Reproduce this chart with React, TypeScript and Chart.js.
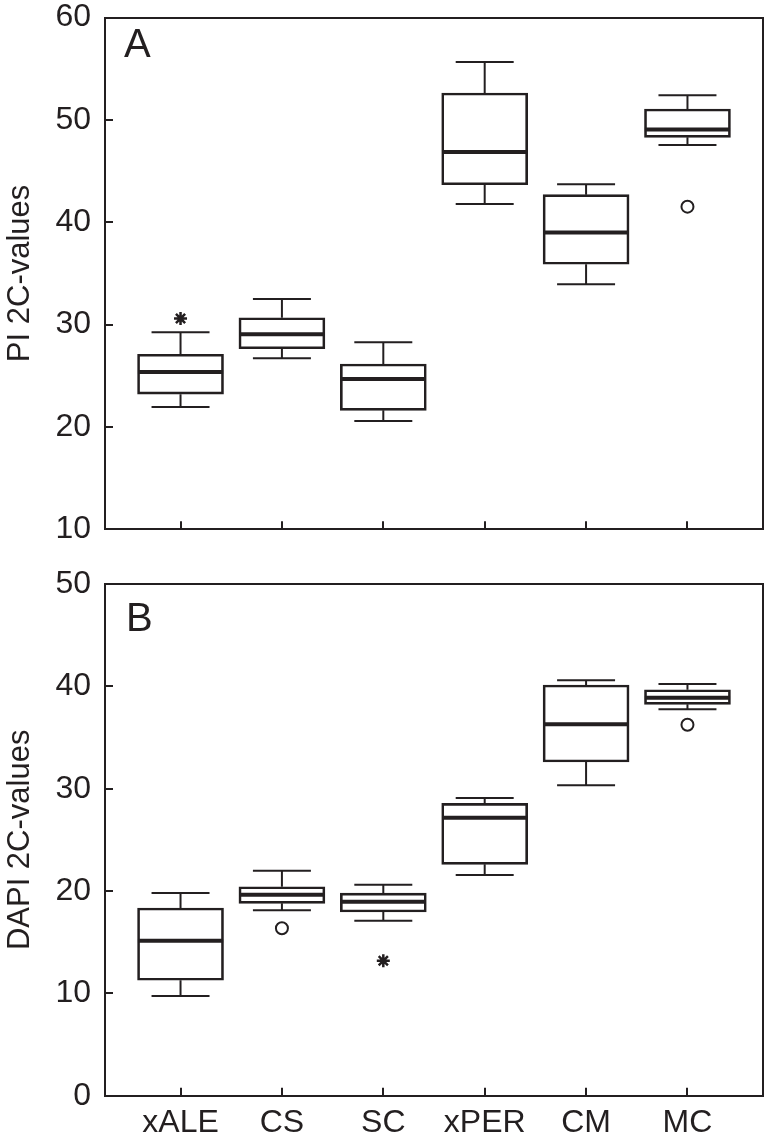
import React, { useEffect, useRef } from 'react';
import { Chart, registerables } from 'chart.js';

Chart.register(...registerables);

// ---------- data ----------
const CATEGORIES = ['xALE', 'CS', 'SC', 'xPER', 'CM', 'MC'];

const PI_MIN = [21.95, 26.7, 20.58, 41.78, 33.93, 47.54];
const PI_Q1 = [23.2, 27.64, 21.62, 43.66, 35.89, 48.29];
const PI_MEDIAN = [25.37, 29.05, 24.68, 46.86, 39.0, 49.05];
const PI_Q3 = [27.1, 30.67, 26.15, 52.62, 42.69, 51.06];
const PI_MAX = [29.25, 32.5, 28.27, 55.65, 43.7, 52.4];
const PI_OUTLIERS = [{ cat: 5, value: 41.52 }];
const PI_EXTREMES = [{ cat: 0, value: 30.6 }];
const PI_TICKS = [10, 20, 30, 40, 50, 60];

const DAPI_MIN = [9.74, 18.12, 17.1, 21.57, 30.33, 37.76];
const DAPI_Q1 = [11.28, 18.8, 17.95, 22.61, 32.61, 38.24];
const DAPI_MEDIAN = [15.15, 19.64, 18.96, 27.17, 36.29, 38.89];
const DAPI_Q3 = [18.34, 20.42, 19.8, 28.57, 40.13, 39.67];
const DAPI_MAX = [19.81, 21.99, 20.62, 29.09, 40.59, 40.23];
const DAPI_OUTLIERS = [{ cat: 1, value: 16.36 }, { cat: 5, value: 36.25 }];
const DAPI_EXTREMES = [{ cat: 2, value: 13.19 }];
const DAPI_TICKS = [0, 10, 20, 30, 40, 50];

// ---------- style ----------
const INK = '#231f20';
const FONT = '"Liberation Sans", Arial, Helvetica, sans-serif';
const X_MIN = -0.745;
const X_MAX = 5.745;
const BOX_HALF = 0.42;
const CAP_HALF = 0.286;

type Pt = { x: number; y: number | null };

function whiskerPoints(mins: number[], q1: number[], q3: number[], maxs: number[]): Pt[] {
  const pts: Pt[] = [];
  mins.forEach((mn, i) => {
    pts.push({ x: i, y: q3[i] }, { x: i, y: maxs[i] }, { x: i, y: null });
    pts.push({ x: i, y: mn }, { x: i, y: q1[i] }, { x: i, y: null });
    pts.push({ x: i - CAP_HALF, y: maxs[i] }, { x: i + CAP_HALF, y: maxs[i] }, { x: i, y: null });
    pts.push({ x: i - CAP_HALF, y: mn }, { x: i + CAP_HALF, y: mn }, { x: i, y: null });
  });
  return pts;
}

function medianPoints(med: number[]): Pt[] {
  const pts: Pt[] = [];
  med.forEach((m, i) => {
    pts.push({ x: i - BOX_HALF, y: m }, { x: i + BOX_HALF, y: m }, { x: i, y: null });
  });
  return pts;
}

function zeroPad(scale: any) {
  scale.paddingTop = 0;
  scale.paddingBottom = 0;
  scale.paddingLeft = 0;
  scale.paddingRight = 0;
}

const panelLabel = {
  id: 'panelLabel',
  afterDraw(chart: any, _args: any, opts: any) {
    const { ctx, chartArea } = chart;
    ctx.save();
    ctx.font = `40px ${FONT}`;
    ctx.fillStyle = INK;
    ctx.textAlign = 'left';
    ctx.textBaseline = 'alphabetic';
    ctx.fillText(opts.text, chartArea.left + opts.dx, chartArea.top + opts.dy);
    ctx.restore();
  },
};

type PanelProps = {
  width: number;
  height: number;
  top: number;
  letter: string;
  letterDx: number;
  letterDy: number;
  yTitle: string;
  yTicks: number[];
  mins: number[];
  q1: number[];
  med: number[];
  q3: number[];
  maxs: number[];
  outliers: { cat: number; value: number }[];
  extremes: { cat: number; value: number }[];
  showXLabels: boolean;
  padTop: number;
  xAxisHeight: number;
};

function Panel(p: PanelProps) {
  const ref = useRef<HTMLCanvasElement | null>(null);
  useEffect(() => {
    if (!ref.current) return;
    const chart = new Chart(ref.current, {
      type: 'bar',
      data: {
        datasets: [
          {
            type: 'bar',
            data: p.q1.map((v, i) => ({ x: i, y: [v, p.q3[i]] })) as any,
            backgroundColor: 'rgba(255,255,255,0)',
            borderColor: INK,
            borderWidth: 2,
            borderSkipped: false,
            barThickness: 86,
            order: 3,
          } as any,
          {
            type: 'line',
            data: whiskerPoints(p.mins, p.q1, p.q3, p.maxs) as any,
            borderColor: INK,
            borderWidth: 2,
            pointRadius: 0,
            spanGaps: false,
            fill: false,
            order: 2,
          } as any,
          {
            type: 'line',
            data: medianPoints(p.med) as any,
            borderColor: INK,
            borderWidth: 4,
            pointRadius: 0,
            spanGaps: false,
            fill: false,
            order: 1,
          } as any,
          {
            type: 'line',
            data: p.outliers.map((o) => ({ x: o.cat, y: o.value })) as any,
            showLine: false,
            pointStyle: 'circle',
            pointRadius: 6,
            pointBorderWidth: 2,
            pointBorderColor: INK,
            pointBackgroundColor: '#ffffff',
            order: 0,
          } as any,
          {
            type: 'line',
            data: p.extremes.map((o) => ({ x: o.cat, y: o.value })) as any,
            showLine: false,
            pointStyle: 'star',
            pointRadius: 6.5,
            pointBorderWidth: 2.5,
            pointBorderColor: INK,
            pointBackgroundColor: INK,
            order: 0,
          } as any,
        ],
      },
      options: {
        animation: false,
        responsive: false,
        maintainAspectRatio: false,
        layout: { autoPadding: false, padding: { top: p.padTop, left: 0, right: 1, bottom: 0 } },
        plugins: {
          legend: { display: false },
          tooltip: { enabled: false },
          panelLabel: { text: p.letter, dx: p.letterDx, dy: p.letterDy },
        } as any,
        scales: {
          x: {
            type: 'linear',
            position: 'bottom',
            min: X_MIN,
            max: X_MAX,
            offset: false,
            afterBuildTicks: (scale: any) => {
              scale.ticks = CATEGORIES.map((_, i) => ({ value: i }));
            },
            afterFit: (scale: any) => {
              scale.height = p.xAxisHeight;
              zeroPad(scale);
            },
            ticks: {
              display: p.showXLabels,
              autoSkip: false,
              maxRotation: 0,
              padding: 19,
              color: INK,
              font: { family: FONT, size: 32, lineHeight: 1 },
              callback: (v: any) => CATEGORIES[Math.round(Number(v))] ?? '',
            },
            grid: {
              display: true,
              offset: false,
              drawOnChartArea: false,
              drawTicks: true,
              tickLength: -8,
              color: INK,
              lineWidth: 2,
            },
            border: { display: true, color: INK, width: 2 },
          },
          y: {
            type: 'linear',
            position: 'left',
            min: p.yTicks[0],
            max: p.yTicks[p.yTicks.length - 1],
            afterBuildTicks: (scale: any) => {
              scale.ticks = p.yTicks.map((v) => ({ value: v }));
            },
            afterFit: (scale: any) => {
              scale.width = 105;
              zeroPad(scale);
            },
            ticks: {
              padding: 22,
              color: INK,
              font: { family: FONT, size: 32, lineHeight: 1 },
            },
            grid: {
              display: true,
              offset: false,
              drawOnChartArea: false,
              drawTicks: true,
              tickLength: -8,
              color: INK,
              lineWidth: 2,
            },
            border: { display: true, color: INK, width: 2 },
            title: {
              display: true,
              text: p.yTitle,
              color: INK,
              font: { family: FONT, size: 31, lineHeight: 1.2 },
              padding: { top: 2, bottom: 0 },
            },
          },
          xTop: {
            type: 'linear',
            position: 'top',
            min: 0,
            max: 1,
            ticks: { display: false },
            grid: { display: true, drawOnChartArea: false, drawTicks: false },
            border: { display: true, color: INK, width: 2 },
            afterFit: (scale: any) => {
              scale.height = 0;
              zeroPad(scale);
            },
          },
          yRight: {
            type: 'linear',
            position: 'right',
            min: 0,
            max: 1,
            ticks: { display: false },
            grid: { display: true, drawOnChartArea: false, drawTicks: false },
            border: { display: true, color: INK, width: 2 },
            afterFit: (scale: any) => {
              scale.width = 0;
              zeroPad(scale);
            },
          },
        } as any,
      },
      plugins: [panelLabel as any],
    });
    return () => chart.destroy();
  }, []);
  return (
    <canvas
      ref={ref}
      width={p.width}
      height={p.height}
      style={{ position: 'absolute', left: 0, top: p.top, width: p.width, height: p.height, display: 'block' }}
    />
  );
}

export default function App() {
  return (
    <div style={{ position: 'absolute', left: 0, top: 0, width: 764, height: 1140, background: '#ffffff' }}>
      <Panel
        width={764}
        height={560}
        top={0}
        letter="A"
        letterDx={19}
        letterDy={39.5}
        yTitle="PI 2C-values"
        yTicks={PI_TICKS}
        mins={PI_MIN}
        q1={PI_Q1}
        med={PI_MEDIAN}
        q3={PI_Q3}
        maxs={PI_MAX}
        outliers={PI_OUTLIERS}
        extremes={PI_EXTREMES}
        showXLabels={false}
        padTop={17.5}
        xAxisHeight={30.7}
      />
      <Panel
        width={764}
        height={580}
        top={560}
        letter="B"
        letterDx={21}
        letterDy={47}
        yTitle="DAPI 2C-values"
        yTicks={DAPI_TICKS}
        mins={DAPI_MIN}
        q1={DAPI_Q1}
        med={DAPI_MEDIAN}
        q3={DAPI_Q3}
        maxs={DAPI_MAX}
        outliers={DAPI_OUTLIERS}
        extremes={DAPI_EXTREMES}
        showXLabels={true}
        padTop={24}
        xAxisHeight={44.3}
      />
    </div>
  );
}
